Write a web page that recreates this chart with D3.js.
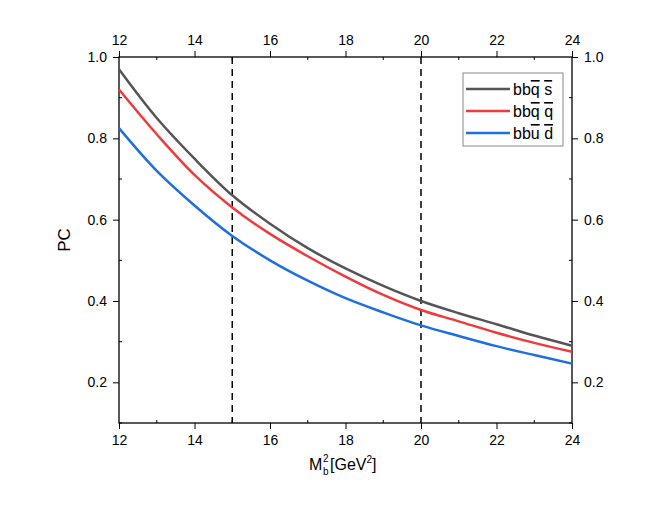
<!DOCTYPE html><html><head><script src="https://d3js.org/d3.v7.min.js"></script>
<style>body{margin:0;background:#fff}text{font-family:Arial,"Liberation Sans",sans-serif}</style></head><body><svg width="664" height="509"></svg><script>
const xs=[12,13,14,15,16,17,18,19,20,21,22,23,24];
const gray=[.97,.85,.75,.66,.59,.53,.48,.437,.40,.37,.343,.315,.29];
const red=[.92,.81,.71,.63,.565,.51,.46,.415,.378,.35,.322,.297,.275];
const blue=[.825,.72,.635,.56,.50,.45,.407,.372,.34,.314,.289,.267,.246];
const vlines=[15,20];
const xticks=[12,14,16,18,20,22,24], yticks=[0.2,0.4,0.6,0.8,1.0];
const svg=d3.select("svg");
const L=119,R=572,T=57,B=423;
const x=d3.scaleLinear().domain([12,24]).range([L,R]);
const y=d3.scaleLinear().domain([0.1,1.0]).range([B,T]);
const fmt=d3.format(".1f");
const ax=(g,a)=>g.call(a).call(g=>g.select(".domain").remove()).selectAll("text").style("font-size","14px").style("font-family","Arial");
svg.append("g").attr("transform",`translate(0,${B})`).call(g=>ax(g,d3.axisBottom(x).tickValues(xticks).tickSize(6).tickPadding(6)));
svg.append("g").attr("transform",`translate(0,${T})`).call(g=>ax(g,d3.axisTop(x).tickValues(xticks).tickSize(6).tickPadding(6)));
svg.append("g").attr("transform",`translate(${L},0)`).call(g=>ax(g,d3.axisLeft(y).tickValues(yticks).tickFormat(fmt).tickSize(6).tickPadding(6)));
svg.append("g").attr("transform",`translate(${R},0)`).call(g=>ax(g,d3.axisRight(y).tickValues(yticks).tickFormat(fmt).tickSize(6).tickPadding(6)));
const mx=d3.range(13,24,2), my=[0.1,0.3,0.5,0.7,0.9];
mx.forEach(v=>{[[B,-3],[T,3]].forEach(([yy,d])=>svg.append("line").attr("x1",x(v)).attr("x2",x(v)).attr("y1",yy).attr("y2",yy+d).attr("stroke","#000"))});
my.forEach(v=>{[[L,3],[R,-3]].forEach(([xx,d])=>svg.append("line").attr("x1",xx).attr("x2",xx+d).attr("y1",y(v)).attr("y2",y(v)).attr("stroke","#000"))});
svg.selectAll(".tick line").attr("stroke","#000");
svg.append("rect").attr("x",L).attr("y",T).attr("width",R-L).attr("height",B-T).attr("fill","none").attr("stroke","#000").attr("stroke-width",1.3);
vlines.forEach(v=>svg.append("line").attr("x1",x(v)).attr("x2",x(v)).attr("y1",T).attr("y2",B).attr("stroke","#000").attr("stroke-width",1.5).attr("stroke-dasharray","7,5"));
const line=d3.line().x((d,i)=>x(xs[i])).y(d=>y(d)).curve(d3.curveCatmullRom);
const ser=[[gray,"#555555"],[red,"#ee3b3b"],[blue,"#1e6fe0"]];
ser.forEach(([d,c])=>svg.append("path").attr("d",line(d)).attr("fill","none").attr("stroke",c).attr("stroke-width",2.5));
svg.append("rect").attr("x",463).attr("y",73).attr("width",100).attr("height",73).attr("fill","#fff").attr("stroke","#888");
const labs=[["bbq","q","s"],["bbq","q","q"],["bbu","u","d"]];
ser.forEach(([d,c],i)=>{const yy=89+i*22;
 svg.append("line").attr("x1",466).attr("x2",510).attr("y1",yy).attr("y2",yy).attr("stroke",c).attr("stroke-width",2.5);
 const t=svg.append("text").attr("x",513).attr("y",yy+6).style("font-size","16px");
 t.append("tspan").text("bb");
 t.append("tspan").text(labs[i][1]).style("text-decoration","overline");
 t.append("tspan").text(" ");
 t.append("tspan").text(labs[i][2]).style("text-decoration","overline");
});
svg.append("text").attr("transform",`translate(70,${(T+B)/2}) rotate(-90)`).attr("text-anchor","middle").style("font-size","17px").text("PC");
const x0=309;
svg.append("text").attr("x",x0).attr("y",470).style("font-size","16px").text("M");
svg.append("text").attr("x",x0+14).attr("y",462).style("font-size","10px").text("2");
svg.append("text").attr("x",x0+14).attr("y",475).style("font-size","10px").text("b");
const t2=svg.append("text").attr("x",x0+21).attr("y",470).style("font-size","16px");
t2.append("tspan").text("[GeV");
t2.append("tspan").text("2").attr("dy",-7).style("font-size","10px");
t2.append("tspan").text("]").attr("dy",7);
</script></body></html>
